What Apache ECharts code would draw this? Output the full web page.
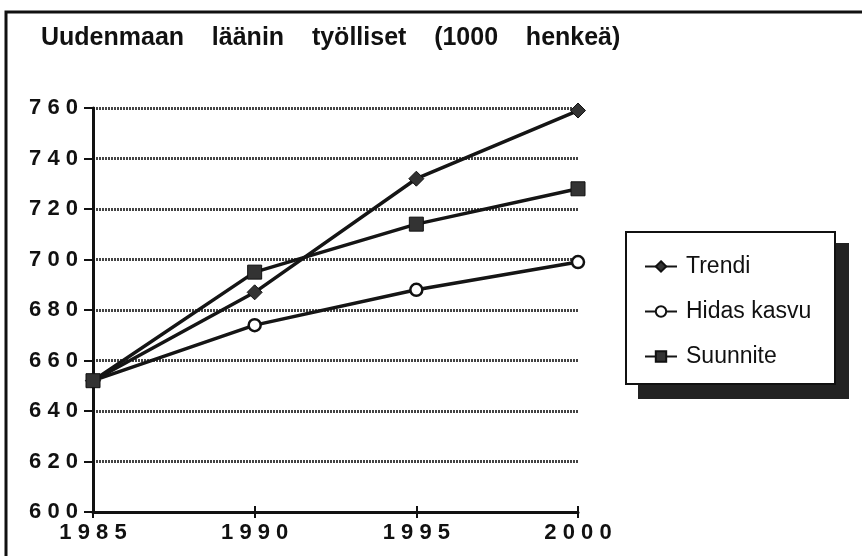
<!DOCTYPE html>
<html>
<head>
<meta charset="utf-8">
<script src="https://cdn.jsdelivr.net/npm/echarts@6/dist/echarts.min.js"></script>
<style>
  html, body { margin: 0; padding: 0; background: #fff; }
  #chart { width: 862px; height: 556px; }
</style>
</head>
<body>
<div id="chart"></div>
<script>
// vuodet ja sarjat
var years = [1985, 1990, 1995, 2000]
var trendi = [652, 687, 732, 759]
var hidasKasvu = [652, 674, 688, 699]
var suunnite = [652, 695, 714, 728]
var yTicks = [600, 620, 640, 660, 680, 700, 720, 740, 760]

var FONT = '"Liberation Sans", Arial, Helvetica, sans-serif'

function pairs(vals) {
  return years.map(function (y, i) { return [y, vals[i]] })
}
function spaced(v) {
  return String(v).split('').join(' ')
}

var chart = echarts.init(document.getElementById('chart'), null, { renderer: 'canvas' })

var lineStyle = { color: '#151515', width: 3.5 }

var option = {
  animation: false,
  backgroundColor: '#fff',
  title: {
    text: 'Uudenmaan    läänin    työlliset    (1000    henkeä)',
    left: 36,
    top: 21,
    textStyle: { fontFamily: FONT, fontSize: 25, fontWeight: 'bold', color: '#111' }
  },
  graphic: [
    // kehys
    { type: 'rect', z: 0, shape: { x: 6, y: 12, width: 900, height: 600 },
      style: { fill: 'none', stroke: '#111', lineWidth: 3 } },
    // selitteen varjo ja laatikko
    { type: 'rect', z: 1, shape: { x: 638, y: 243, width: 211, height: 156 },
      style: { fill: '#222' } },
    { type: 'rect', z: 2, shape: { x: 626, y: 232, width: 209, height: 152 },
      style: { fill: '#fff', stroke: '#111', lineWidth: 2 } }
  ],
  legend: {
    z: 10,
    orient: 'vertical',
    left: 639,
    top: 250,
    itemWidth: 32,
    itemHeight: 13,
    itemGap: 22,
    textStyle: { fontFamily: FONT, fontSize: 23, color: '#111', padding: [0, 0, 0, 4] },
    data: ['Trendi', 'Hidas kasvu', 'Suunnite']
  },
  grid: { left: 93, right: 284, top: 108, bottom: 44 },
  xAxis: [{
    type: 'value',
    min: 1985, max: 2000, interval: 5,
    axisLine: { lineStyle: { color: '#111', width: 3 } },
    axisTick: { inside: true, length: 6, lineStyle: { color: '#111', width: 2 } },
    axisLabel: { margin: 10, fontFamily: FONT, fontSize: 22, fontWeight: 'bold', color: '#111',
      formatter: function (v) { return spaced(v) } },
    splitLine: { show: false }
  }, {
    type: 'value',
    position: 'bottom',
    min: 1985, max: 2000, interval: 5,
    axisLine: { show: false },
    axisTick: { length: 6, lineStyle: { color: '#111', width: 2 } },
    axisLabel: { show: false },
    splitLine: { show: false }
  }],
  yAxis: {
    type: 'value',
    min: yTicks[0], max: yTicks[yTicks.length - 1], interval: 20,
    axisLine: { show: true, lineStyle: { color: '#111', width: 3 } },
    axisTick: { length: 9, lineStyle: { color: '#111', width: 2 } },
    axisLabel: { margin: 15, fontFamily: FONT, fontSize: 22, fontWeight: 'bold', color: '#111',
      formatter: function (v) { return spaced(v) } },
    splitLine: { lineStyle: { color: '#444', width: 3, type: [2, 1] } }
  },
  series: [
    {
      name: 'Trendi', type: 'line', data: pairs(trendi),
      symbol: 'diamond', symbolSize: 15,
      lineStyle: lineStyle,
      itemStyle: { color: '#333', borderColor: '#111', borderWidth: 1 }
    },
    {
      name: 'Hidas kasvu', type: 'line', data: pairs(hidasKasvu),
      symbol: 'circle', symbolSize: 12,
      lineStyle: lineStyle,
      itemStyle: { color: '#fff', borderColor: '#111', borderWidth: 2.5 }
    },
    {
      name: 'Suunnite', type: 'line', data: pairs(suunnite),
      symbol: 'rect', symbolSize: 14,
      lineStyle: lineStyle,
      itemStyle: { color: '#333', borderColor: '#111', borderWidth: 1 }
    }
  ]
}

chart.setOption(option)
</script>
</body>
</html>
